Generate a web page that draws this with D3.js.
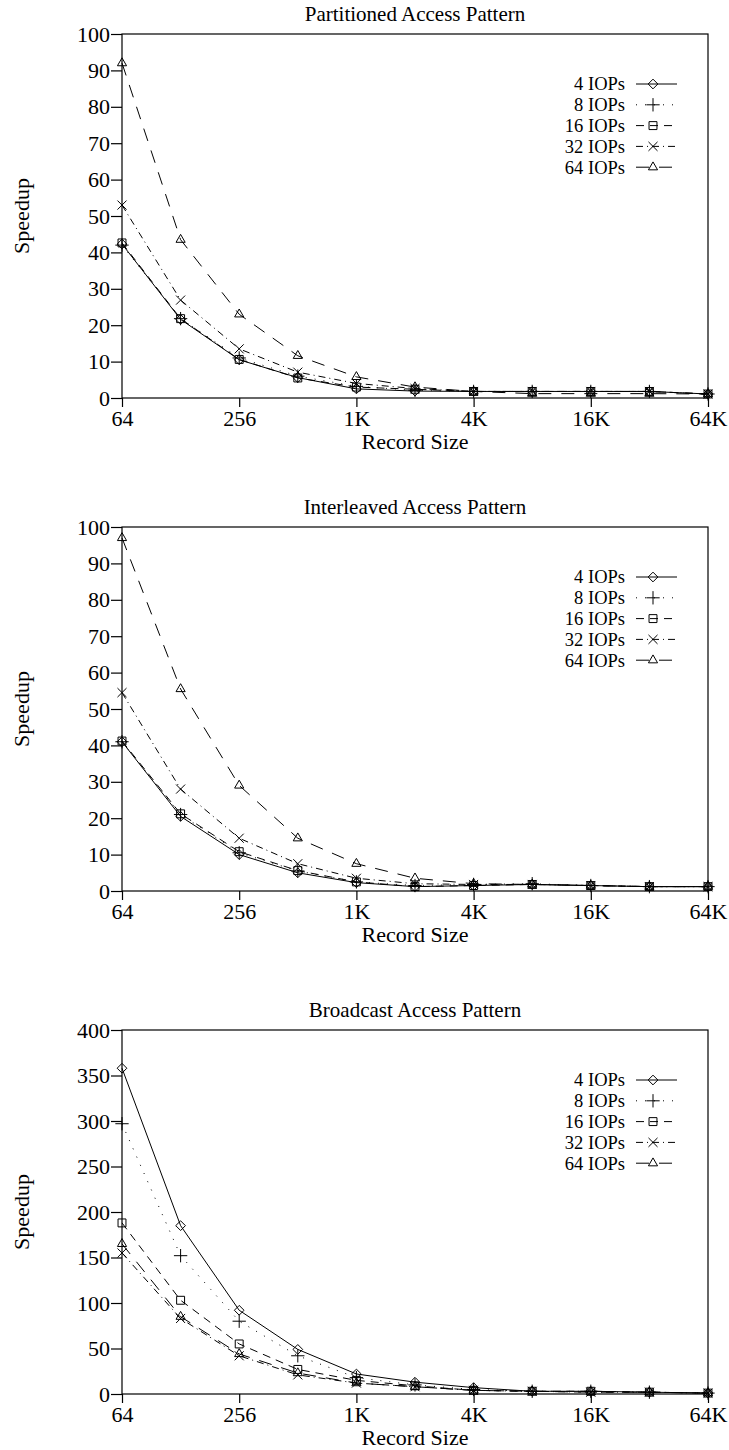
<!DOCTYPE html>
<html>
<head>
<meta charset="utf-8">
<script src="https://cdn.jsdelivr.net/npm/d3@7"></script>
<style>
  body { margin: 0; background: #fff; }
  text { font-family: 'Liberation Serif', 'DejaVu Serif', serif; fill: #000; }
</style>
</head>
<body>
<svg id="chart"></svg>
<script>
const recordSizes = [64, 128, 256, 512, 1024, 2048, 4096, 8192, 16384, 32768, 65536];
const xTickValues = [64, 256, 1024, 4096, 16384, 65536];
const xTickLabels = ['64', '256', '1K', '4K', '16K', '64K'];
const seriesNames = ['4 IOPs', '8 IOPs', '16 IOPs', '32 IOPs', '64 IOPs'];

// speedup, one row per series (4, 8, 16, 32, 64 IOPs)
const partitioned = [
  [42.3, 21.6, 10.5, 5.6, 2.5, 1.9, 1.8, 1.8, 1.8, 1.8, 1.1],
  [42, 21.8, 11, 6, 3.2, 2.1, 1.8, 1.8, 1.8, 1.8, 1.1],
  [42.6, 21.8, 10.6, 5.5, 3, 2.4, 1.8, 1.8, 1.8, 1.8, 1.1],
  [53, 26.9, 13.5, 7.1, 4, 2.6, 1.8, 1.8, 1.8, 1.8, 1.1],
  [92, 43.5, 23, 11.6, 5.8, 3, 1.8, 1.2, 1.2, 1.2, 1.1]
];
const interleaved = [
  [41, 20.5, 10, 5, 2.3, 1.2, 1.5, 1.8, 1.5, 1.2, 1.2],
  [41, 21, 10.5, 5.5, 2.5, 1.5, 1.8, 2, 1.5, 1.2, 1.2],
  [41.2, 21.2, 10.8, 5.6, 2.5, 1.2, 1.5, 1.8, 1.5, 1.2, 1.2],
  [54.5, 28, 14.5, 7.5, 3.5, 2, 1.8, 1.8, 1.5, 1.2, 1.2],
  [97, 55.5, 29, 14.5, 7.5, 3.5, 2, 1.8, 1.5, 1.2, 1.2]
];
const broadcast = [
  [358, 185, 92, 49, 22, 13, 7, 3, 3, 2, 1],
  [297, 152, 80, 42, 18, 10, 5, 3, 3, 2, 1],
  [188, 103, 55, 27, 15, 9, 4, 3, 3, 2, 1],
  [155, 83, 42, 21, 12, 8, 4, 3, 2, 2, 1],
  [165, 85, 44, 23, 12, 8, 4, 3, 2, 2, 1]
];
const panelTitles = ['Partitioned Access Pattern', 'Interleaved Access Pattern', 'Broadcast Access Pattern'];
const panelMax = [100, 100, 400];
const panelStep = [10, 10, 50];

const width = 729, height = 1450;
const margin = { left: 122, right: 21 };
const plotHeight = 364;
const panelTops = [34, 527, 1030];
const fontSize = 22;

const dashes = [null, '1,8', '8,6', '7,4,1,4', '13,10'];
const symbols = [
  d3.symbolDiamond2 || d3.symbolDiamond,
  d3.symbolPlus || d3.symbolCross,
  d3.symbolSquare2 || d3.symbolSquare,
  d3.symbolTimes || d3.symbolCross,
  d3.symbolTriangle2 || d3.symbolTriangle
];
const symbolSizes = [60, 60, 80, 55, 60];

const svg = d3.select('#chart').attr('width', width).attr('height', height);

const x = d3.scaleLog().base(2)
  .domain([64, 65536])
  .range([margin.left, width - margin.right]);

function drawPanel(i, data) {
  const top = panelTops[i];
  const y = d3.scaleLinear()
    .domain([0, panelMax[i]])
    .range([top + plotHeight, top]);
  const g = svg.append('g');

  // frame
  g.append('rect')
    .attr('x', x.range()[0]).attr('y', top)
    .attr('width', x.range()[1] - x.range()[0]).attr('height', plotHeight)
    .attr('fill', 'none').attr('stroke', '#000').attr('stroke-width', 1.2);

  const yAxis = g.append('g')
    .attr('transform', `translate(${x.range()[0]},0)`)
    .call(d3.axisLeft(y).tickValues(d3.range(0, panelMax[i] + 1, panelStep[i])).tickSize(11).tickSizeOuter(0).tickPadding(1));
  const xAxis = g.append('g')
    .attr('transform', `translate(0,${top + plotHeight})`)
    .call(d3.axisBottom(x).tickValues(xTickValues).tickFormat((d, k) => xTickLabels[k]).tickSize(9).tickSizeOuter(0).tickPadding(3));
  [xAxis, yAxis].forEach(a => {
    a.select('.domain').remove();
    a.selectAll('line').attr('stroke', '#000').attr('stroke-width', 1.2);
    a.selectAll('text').style('font-family', "'Liberation Serif', serif").style('font-size', fontSize + 'px').attr('fill', '#000');
  });

  g.append('text')
    .attr('x', (x.range()[0] + x.range()[1]) / 2)
    .attr('y', top - 13)
    .attr('text-anchor', 'middle')
    .style('font-size', '21px')
    .text(panelTitles[i]);
  g.append('text')
    .attr('x', (x.range()[0] + x.range()[1]) / 2)
    .attr('y', top + plotHeight + 51)
    .attr('text-anchor', 'middle')
    .style('font-size', fontSize + 'px')
    .text('Record Size');
  g.append('text')
    .attr('transform', `translate(29,${top + plotHeight / 2}) rotate(-90)`)
    .attr('text-anchor', 'middle')
    .style('font-size', fontSize + 'px')
    .text('Speedup');

  const line = d3.line()
    .x((d, k) => x(recordSizes[k]))
    .y(d => y(d));

  data.forEach((vals, s) => {
    g.append('path')
      .datum(vals)
      .attr('d', line)
      .attr('fill', 'none')
      .attr('stroke', '#000')
      .attr('stroke-width', 1)
      .attr('stroke-dasharray', dashes[s]);
    g.selectAll(null)
      .data(vals)
      .enter()
      .append('path')
      .attr('transform', (d, k) => `translate(${x(recordSizes[k])},${y(d)})`)
      .attr('d', d3.symbol(symbols[s], symbolSizes[s]))
      .attr('fill', 'none')
      .attr('stroke', '#000')
      .attr('stroke-width', 1);
  });

  // legend
  const legend = g.append('g');
  seriesNames.forEach((name, s) => {
    const ly = top + 50 + s * 20.8;
    legend.append('text')
      .attr('x', 625).attr('y', ly)
      .attr('dy', '0.35em')
      .attr('text-anchor', 'end')
      .style('font-size', '18.5px')
      .text(name);
    legend.append('line')
      .attr('x1', 636).attr('x2', 677)
      .attr('y1', ly).attr('y2', ly)
      .attr('stroke', '#000').attr('stroke-width', 1)
      .attr('stroke-dasharray', dashes[s]);
    legend.append('path')
      .attr('transform', `translate(653,${ly})`)
      .attr('d', d3.symbol(symbols[s], symbolSizes[s]))
      .attr('fill', 'none').attr('stroke', '#000');
  });
}

drawPanel(0, partitioned);
drawPanel(1, interleaved);
drawPanel(2, broadcast);
</script>
</body>
</html>
